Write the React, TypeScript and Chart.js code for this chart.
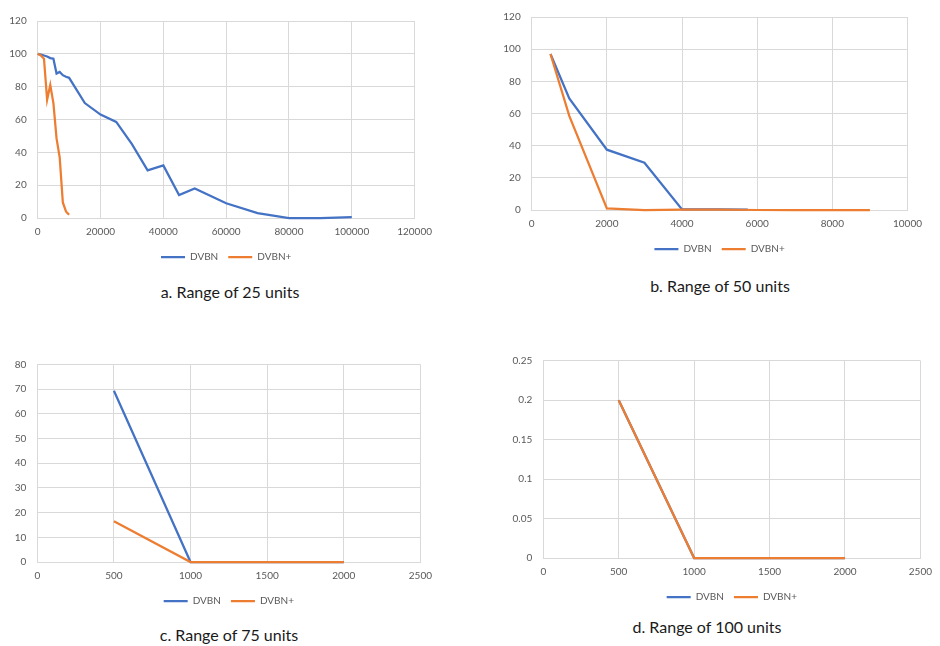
import React, { useEffect, useRef } from "react";
import { Chart, registerables } from "chart.js";
Chart.register(...registerables);

// Panel a
const aX = [0, 1000, 2000, 3000, 4000, 5000, 6000, 7000, 8000, 9000, 10000, 15000, 20000, 25000, 30000, 35000, 40000, 45000, 50000, 60000, 70000, 80000, 90000, 100000];
const aDVBN = [100, 99.5, 99, 98.4, 97.4, 97, 88, 89, 87, 86, 85.4, 70, 63, 58.5, 45, 29, 32, 14, 18, 9, 3, 0, 0, 0.6];
const aPlusX = [0, 1000, 2000, 3000, 4000, 5000, 6000, 7000, 8000, 9000, 10000];
const aDVBNPlus = [100, 99, 97, 72, 81, 70, 48.5, 37, 9.5, 4, 2];

// Panel b
const bX = [500, 1000, 2000, 3000, 4000, 5000, 5750];
const bDVBN = [97, 69.4, 37.5, 29.4, 0.4, 0.4, 0.3];
const bPlusX = [500, 1000, 2000, 3000, 4000, 5000, 6000, 7000, 8000, 9000];
const bDVBNPlus = [97, 58.5, 1, 0, 0.3, 0.3, 0, 0, 0, 0];

// Panel c
const cX = [500, 1000, 1500, 2000];
const cDVBN = [69.3, 0, 0, 0];
const cDVBNPlus = [16.5, 0, 0, 0];

// Panel d
const dX = [500, 1000, 1500, 2000];
const dDVBN = [0.2, 0, 0, 0];
const dDVBNPlus = [0.2, 0, 0, 0];

const seriesNames = ["DVBN", "DVBN+"];
const captions = ["a. Range of 25 units", "b. Range of 50 units", "c. Range of 75 units", "d. Range of 100 units"];

const BLUE = "#4472C4";
const ORANGE = "#ED7D31";
const GRID = "#d9d9d9";
const TICK = "#595959";

const pts = (xs: number[], ys: number[]) => xs.map((x, i) => ({ x, y: ys[i] }));
const fmt = (v: any) => String(parseFloat(Number(v).toFixed(4)));

type PanelCfg = {
  left: number; top: number; width: number; height: number;
  yAxisW: number; padTop: number; padRight: number;
  xMax: number; xStep: number; yMax: number; yStep: number;
  blue: { x: number; y: number }[]; orange: { x: number; y: number }[];
};

function Panel({ cfg }: { cfg: PanelCfg }) {
  const ref = useRef<HTMLCanvasElement | null>(null);
  useEffect(() => {
    if (!ref.current) return;
    const mk = (label: string, data: any, color: string, order: number) => ({
      label, data, borderColor: color, backgroundColor: color, borderWidth: 2.25,
      pointRadius: 0, tension: 0, fill: false, order, clip: 4,
    });
    const chart = new Chart(ref.current, {
      type: "line",
      data: {
        datasets: [
          mk(seriesNames[0], cfg.blue, BLUE, 1),
          mk(seriesNames[1], cfg.orange, ORANGE, 0),
        ],
      },
      options: {
        animation: false,
        responsive: false,
        maintainAspectRatio: false,
        layout: { padding: { top: cfg.padTop, right: cfg.padRight, left: 0, bottom: 0 } },
        plugins: {
          tooltip: { enabled: false },
          legend: {
            position: "bottom",
            fullSize: false,
            labels: {
              boxWidth: 24, boxHeight: 0, padding: 10, color: TICK,
              font: { family: "Lato", size: 10 },
              sort: (a: any, b: any) => a.datasetIndex - b.datasetIndex,
            },
          },
        },
        scales: {
          x: {
            type: "linear", min: 0, max: cfg.xMax,
            ticks: { stepSize: cfg.xStep, color: TICK, padding: 8, font: { family: "Lato", size: 10 }, callback: fmt, maxRotation: 0 },
            grid: { color: GRID, drawTicks: false, lineWidth: 1 },
            border: { color: GRID },
            afterFit: (s: any) => { s.height = 24; },
          },
          y: {
            type: "linear", min: 0, max: cfg.yMax,
            ticks: { stepSize: cfg.yStep, color: TICK, padding: 11, font: { family: "Lato", size: 10 }, callback: fmt },
            grid: { color: GRID, drawTicks: false, lineWidth: 1 },
            border: { display: false },
            afterFit: (s: any) => { s.width = cfg.yAxisW; },
          },
        },
      } as any,
    });
    return () => chart.destroy();
  }, []);
  return (
    <canvas
      ref={ref}
      width={cfg.width}
      height={cfg.height}
      style={{ position: "absolute", left: cfg.left, top: cfg.top, width: cfg.width, height: cfg.height }}
    />
  );
}

const panels: PanelCfg[] = [
  { left: 0, top: 0, width: 440, height: 272, yAxisW: 37.7, padTop: 21, padRight: 21, xMax: 120000, xStep: 20000, yMax: 120, yStep: 20, blue: pts(aX, aDVBN), orange: pts(aPlusX, aDVBNPlus) },
  { left: 480, top: 0, width: 450, height: 264, yAxisW: 51.7, padTop: 12.7, padRight: 15, xMax: 10000, xStep: 2000, yMax: 120, yStep: 20, blue: pts(bX, bDVBN), orange: pts(bPlusX, bDVBNPlus) },
  { left: 0, top: 340, width: 440, height: 276, yAxisW: 37.3, padTop: 24.3, padRight: 10, xMax: 2500, xStep: 500, yMax: 80, yStep: 10, blue: pts(cX, cDVBN), orange: pts(cX, cDVBNPlus) },
  { left: 490, top: 340, width: 450, height: 272, yAxisW: 53.3, padTop: 20.7, padRight: 12.7, xMax: 2500, xStep: 500, yMax: 0.25, yStep: 0.05, blue: pts(dX, dDVBN), orange: pts(dX, dDVBNPlus) },
];

const captionPos = [
  { cx: 230, cy: 292 },
  { cx: 720, cy: 286 },
  { cx: 229, cy: 635 },
  { cx: 707, cy: 627 },
];

export default function App() {
  return (
    <div style={{ position: "absolute", left: 0, top: 0, width: 940, height: 646, background: "#fff", overflow: "hidden" }}>
      {panels.map((p, i) => <Panel key={i} cfg={p} />)}
      {captions.map((t, i) => (
        <div key={"c" + i} style={{
          position: "absolute", left: captionPos[i].cx - 150, top: captionPos[i].cy - 10, width: 300, height: 20,
          textAlign: "center", fontFamily: "Lato", fontSize: 16, lineHeight: "20px", color: "#1a1a1a",
        }}>{t}</div>
      ))}
    </div>
  );
}
